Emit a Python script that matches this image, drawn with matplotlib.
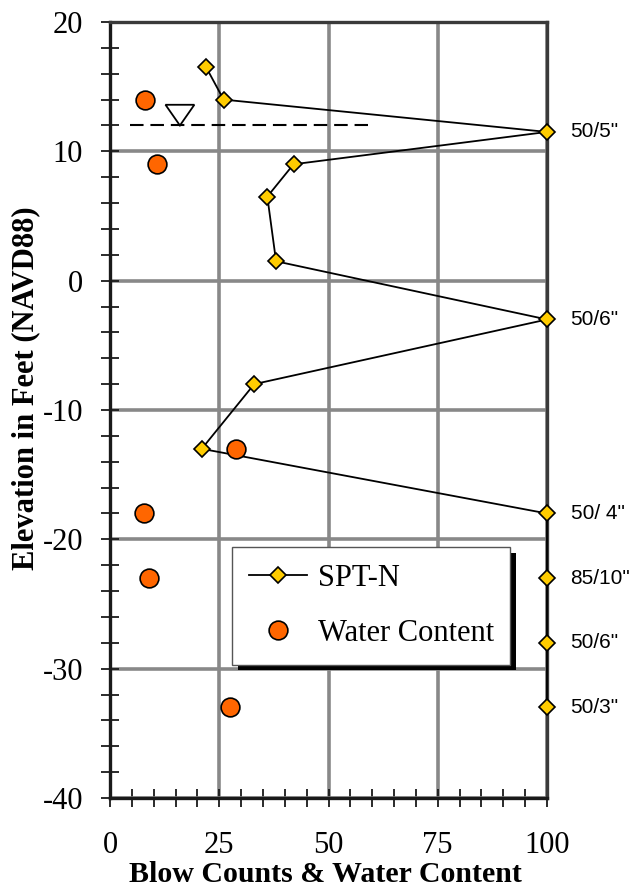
import matplotlib
matplotlib.use("Agg")
import matplotlib.pyplot as plt
import matplotlib.patheffects as pe
from matplotlib.patches import Polygon
from matplotlib.ticker import MultipleLocator, FuncFormatter

plt.rcParams['font.family'] = ['Liberation Serif', 'DejaVu Serif']
plt.rcParams['axes.unicode_minus'] = False

# SPT blow counts (N) with elevation; refusal intervals plotted at 100
spt_n = [22, 26, 100, 42, 36, 38, 100, 33, 21, 100, 100, 100, 100]
spt_elev = [16.5, 14, 11.5, 9, 6.5, 1.5, -3, -8, -13, -18, -23, -28, -33]

# Refusal notes shown beside the points plotted at 100
refusal_elev = [11.5, -3, -18, -23, -28, -33]
refusal_text = ['50/5"', '50/6"', '50/ 4"', '85/10"', '50/6"', '50/3"']

# Water content (%) with elevation
wc = [8, 10.8, 28.8, 7.8, 8.9, 27.5]
wc_elev = [14, 9, -13, -18, -23, -33]

# Groundwater level
water_table_elev = 12
water_table_x = [4.5, 59]
water_table_symbol_x = 16

x_ticks = [0, 25, 50, 75, 100]
y_ticks = [-40, -30, -20, -10, 0, 10, 20]

fig = plt.figure(figsize=(6.3, 8.91), dpi=100)
ax = fig.add_axes([110 / 630, 1 - 798 / 891, 437 / 630, 776 / 891])

ax.set_xlim(0, 100)
ax.set_ylim(-40, 20)
ax.set_xticks(x_ticks)
ax.set_yticks(y_ticks)
ax.xaxis.set_minor_locator(MultipleLocator(5))
ax.yaxis.set_minor_locator(MultipleLocator(2))
ax.yaxis.set_major_formatter(FuncFormatter(lambda v, p: f"{v:.0f}"))

ax.grid(True, which='major', color='#888888', linewidth=2.6, zorder=0)
ax.set_axisbelow(True)

for side in ('left', 'bottom'):
    ax.spines[side].set_linewidth(2.4)
    ax.spines[side].set_color('#1a1a1a')
for side in ('top', 'right'):
    ax.spines[side].set_linewidth(2.4)
    ax.spines[side].set_color('#3a3a3a')

ax.tick_params(which='both', direction='inout', length=13, width=1.3, color='#1a1a1a',
               top=False, right=False, labelsize=22)
ax.tick_params(axis='y', which='both', pad=13)
ax.tick_params(axis='x', which='both', pad=17.5)

# Water table: dashed line with inverted triangle
ax.plot(water_table_x, [water_table_elev] * 2, color='black', linewidth=1.5,
        dashes=(6.5, 3.3), zorder=3)
tri_half_w = 3.3
tri_h = 1.6
ax.add_patch(Polygon([[water_table_symbol_x - tri_half_w, water_table_elev + tri_h],
                      [water_table_symbol_x + tri_half_w, water_table_elev + tri_h],
                      [water_table_symbol_x, water_table_elev]],
                     closed=True, facecolor='white', edgecolor='black', linewidth=1.3, zorder=4))

spt_line, = ax.plot(spt_n, spt_elev, color='black', linewidth=1.3, marker='D', markersize=8,
                    markerfacecolor='#FFCC00', markeredgecolor='black', markeredgewidth=1.2,
                    clip_on=False, zorder=5, label='SPT-N')
wc_pts, = ax.plot(wc, wc_elev, linestyle='none', marker='o', markersize=13.5,
                  markerfacecolor='#FF6600', markeredgecolor='black', markeredgewidth=1.2,
                  clip_on=False, zorder=6, label='Water Content')

for elev, txt in zip(refusal_elev, refusal_text):
    ax.annotate(txt, xy=(100, elev), xytext=(17, 0), textcoords='offset points',
                ha='left', va='center', fontsize=15, family=['Liberation Sans', 'DejaVu Sans'],
                annotation_clip=False)

leg = ax.legend(handles=[spt_line, wc_pts], loc='upper left',
                bbox_to_anchor=(122 / 437, 1 - 525 / 776), borderaxespad=0,
                fontsize=22, frameon=True, fancybox=False, framealpha=1,
                edgecolor='#555555', borderpad=0.55, handlelength=1.9,
                handletextpad=0.35, labelspacing=0.85)
frame = leg.get_frame()
frame.set_linewidth(1.0)
frame.set_path_effects([pe.SimplePatchShadow(offset=(4, -4), shadow_rgbFace='black', alpha=1),
                        pe.Normal()])
leg.set_zorder(10)

fig.text(325 / 630, 3 / 891, 'Blow Counts & Water Content', ha='center', va='bottom',
         fontsize=21.5, fontweight='bold')
fig.text(26 / 630, 1 - 388 / 891, 'Elevation in Feet (NAVD88)', ha='center', va='center',
         rotation=90, fontsize=22, fontweight='bold')

fig.savefig('out.png', dpi=100)
